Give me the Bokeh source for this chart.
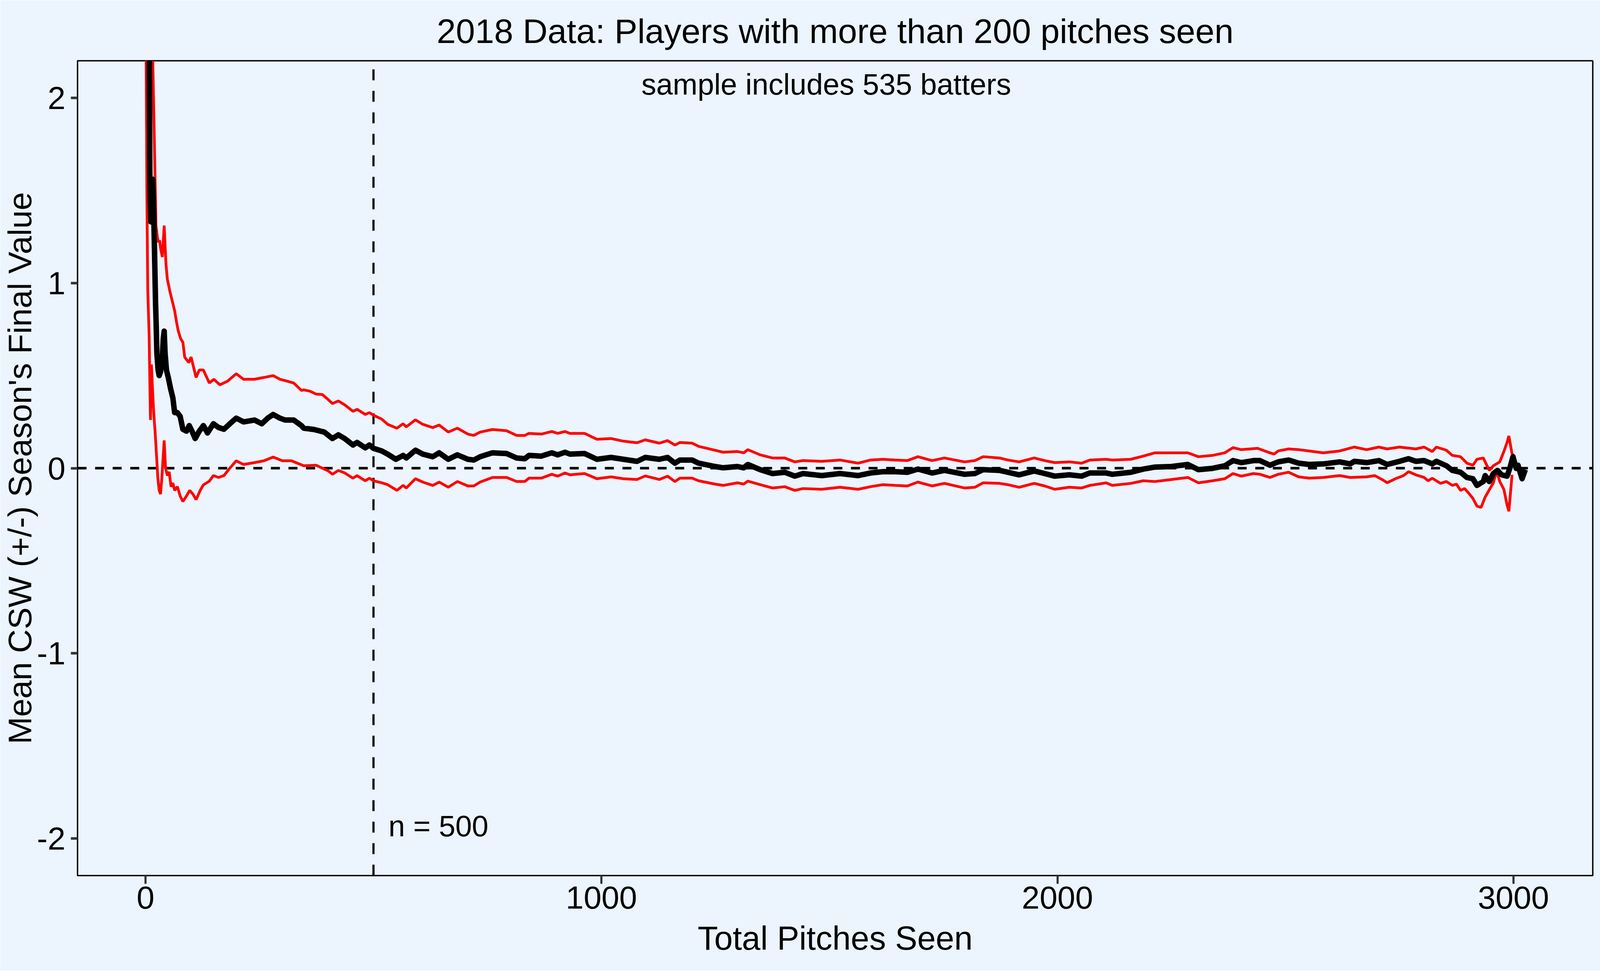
from bokeh.plotting import figure
from bokeh.models import Range1d, FixedTicker, Label, CustomJSTickFormatter
from bokeh.embed import file_html
from bokeh.resources import INLINE

# ---------------- data ----------------
mean_x = [1, 4, 7, 8.5, 9.5, 10.5, 12, 14, 16, 18, 20, 22, 23.3, 25, 27.7, 30, 33, 37, 39, 41, 43, 46, 50, 55, 60, 64, 70, 76, 82, 90, 96, 102, 109, 118, 127, 136, 149, 160, 172, 185, 199, 215, 239, 255, 268, 280, 295, 306, 325, 342,
          347, 369.5, 392, 410, 423, 437, 455, 464, 482, 491, 500, 518, 531, 549, 565, 572, 592, 608, 630, 644, 664, 684, 707, 720, 734, 761, 792, 814, 832, 841, 868, 891, 904, 920, 931, 963, 990, 1021, 1048,
          1078, 1096, 1127, 1145, 1161, 1172, 1199, 1213, 1249, 1267, 1298, 1312, 1321, 1348, 1375, 1402, 1424, 1442, 1483, 1523, 1563, 1590, 1617, 1644, 1671, 1694, 1725, 1752,
          1796, 1819, 1837, 1873, 1891, 1916, 1949, 1972, 1994, 2026, 2053, 2071, 2107, 2120, 2161, 2188, 2214, 2250, 2286, 2309, 2340, 2367, 2385, 2403, 2430, 2444,
          2466, 2484, 2507, 2529, 2552, 2583, 2619, 2642, 2651, 2678, 2705, 2723, 2750, 2770, 2786, 2804, 2822, 2831, 2853, 2866, 2884, 2898, 2911, 2920, 2934, 2938, 2947, 2956, 2965, 2974, 2986, 2992, 2999, 3006, 3010, 3019, 3026]
mean_y = [8.0, 4.0, 2.5, 2.2, 1.6, 1.45, 1.33, 1.50, 1.56, 1.38, 1.15, 0.9, 0.79, 0.62, 0.53, 0.50, 0.52, 0.60, 0.70, 0.74, 0.62, 0.53, 0.49, 0.43, 0.38, 0.30, 0.30, 0.28, 0.21, 0.20, 0.23, 0.20, 0.16, 0.20, 0.23, 0.19, 0.24, 0.22, 0.21, 0.24, 0.27, 0.25, 0.26, 0.24, 0.27, 0.29, 0.27, 0.26, 0.26, 0.23,
          0.216, 0.209, 0.195, 0.16, 0.18, 0.16, 0.125, 0.139, 0.11, 0.125, 0.107, 0.093, 0.076, 0.048, 0.069, 0.055, 0.097, 0.076, 0.062, 0.083, 0.048, 0.072, 0.048, 0.044, 0.062, 0.083, 0.079, 0.055, 0.051, 0.069, 0.065, 0.083, 0.072, 0.086, 0.076, 0.079, 0.048, 0.058, 0.048,
          0.037, 0.058, 0.048, 0.058, 0.027, 0.044, 0.044, 0.027, 0.009, 0.002, 0.009, 0.002, 0.02, -0.008, -0.029, -0.022, -0.043, -0.029, -0.04, -0.029, -0.04, -0.026, -0.019, -0.019, -0.022, -0.005, -0.026, -0.012,
          -0.033, -0.029, -0.008, -0.012, -0.022, -0.036, -0.015, -0.029, -0.043, -0.036, -0.043, -0.026, -0.026, -0.033, -0.022, -0.005, 0.006, 0.009, 0.02, -0.008, -0.001, 0.013, 0.041, 0.03, 0.041, 0.041,
          0.016, 0.034, 0.044, 0.027, 0.02, 0.023, 0.034, 0.023, 0.037, 0.03, 0.041, 0.02, 0.037, 0.051, 0.037, 0.041, 0.023, 0.037, 0.013, -0.012, -0.022, -0.05, -0.057, -0.093, -0.072, -0.04, -0.072, -0.029, -0.012, -0.036, -0.043, -0.001, 0.062, -0.001, 0.016, -0.057, -0.008]

upper_x = [1, 10, 16, 20, 23, 26, 28, 31, 33, 37, 41, 45, 48, 54, 60, 64, 68, 72, 77, 82, 86, 95, 100, 111, 118, 127, 140, 150, 163, 180, 199, 215, 239, 260, 280, 295, 311, 325, 342,
           347, 360.5, 374, 387.5, 401, 410, 423, 437, 455, 464, 482, 491, 500, 518, 531, 551.5, 565, 572, 592, 608, 630, 644, 664, 684, 707, 720, 734, 761, 792, 814, 832, 841, 868, 891, 904, 920, 931, 963, 990, 1021, 1048,
           1078, 1096, 1127, 1145, 1161, 1172, 1199, 1213, 1249, 1267, 1298, 1312, 1321, 1348, 1375, 1402, 1424, 1442, 1483, 1523, 1563, 1590, 1617, 1644, 1671, 1694, 1725, 1752,
           1796, 1819, 1837, 1873, 1891, 1916, 1949, 1972, 1994, 2026, 2053, 2071, 2107, 2120, 2161, 2188, 2214, 2250, 2286, 2309, 2340, 2367, 2385, 2403, 2439,
           2466, 2475, 2484, 2507, 2529, 2552, 2583, 2619, 2651, 2678, 2705, 2723, 2750, 2786, 2804, 2822, 2831, 2853, 2866, 2884, 2898, 2911, 2920, 2934, 2947, 2956, 2970, 2979, 2986, 2990, 2997, 2999]
upper_y = [10.0, 4.0, 2.2, 1.7, 1.31, 1.25, 1.22, 1.23, 1.19, 1.14, 1.31, 1.1, 1.02, 0.95, 0.89, 0.85, 0.79, 0.74, 0.70, 0.68, 0.60, 0.57, 0.60, 0.49, 0.53, 0.53, 0.46, 0.48, 0.45, 0.47, 0.51, 0.48, 0.48, 0.49, 0.50, 0.48, 0.47, 0.46, 0.42,
           0.423, 0.416, 0.40, 0.398, 0.37, 0.349, 0.363, 0.342, 0.307, 0.318, 0.29, 0.30, 0.286, 0.265, 0.237, 0.216, 0.24, 0.223, 0.261, 0.237, 0.219, 0.233, 0.195, 0.216, 0.184, 0.177, 0.195, 0.209, 0.202, 0.177, 0.177, 0.188, 0.184, 0.198, 0.188, 0.198, 0.188, 0.188, 0.156, 0.16, 0.146,
           0.137, 0.153, 0.135, 0.149, 0.125, 0.139, 0.135, 0.118, 0.097, 0.086, 0.09, 0.083, 0.1, 0.072, 0.055, 0.055, 0.034, 0.041, 0.037, 0.044, 0.027, 0.044, 0.048, 0.044, 0.041, 0.062, 0.041, 0.055,
           0.034, 0.041, 0.062, 0.055, 0.044, 0.034, 0.055, 0.041, 0.03, 0.034, 0.027, 0.044, 0.048, 0.044, 0.048, 0.065, 0.083, 0.083, 0.083, 0.062, 0.069, 0.083, 0.111, 0.1, 0.107,
           0.083, 0.076, 0.093, 0.104, 0.1, 0.093, 0.083, 0.093, 0.114, 0.1, 0.114, 0.104, 0.114, 0.104, 0.114, 0.09, 0.114, 0.097, 0.069, 0.062, 0.027, 0.016, 0.048, 0.055, -0.012, 0.013, 0.034, 0.09, 0.139, 0.174, 0.076, 0.082]

lower_x = [1, 3, 5, 8, 10, 11, 12, 13, 15, 18, 21, 23, 27, 30, 33, 36, 41, 44, 48, 52, 56, 60, 64, 70, 76, 82, 90, 97, 104, 111, 120, 127, 140, 149, 160, 172, 185, 199, 215, 239, 260, 280, 300, 320,
           347, 374, 401, 410, 423, 437, 455, 464, 482, 491, 500, 518, 531, 551.5, 565, 572, 592, 608, 630, 644, 664, 684, 707, 720, 734, 761, 792, 814, 832, 841, 868, 891, 904, 920, 931, 963, 990, 1021, 1048,
           1078, 1096, 1127, 1145, 1161, 1172, 1199, 1213, 1249, 1267, 1298, 1312, 1321, 1348, 1375, 1402, 1424, 1442, 1483, 1523, 1563, 1590, 1617, 1644, 1671, 1694, 1725, 1752,
           1796, 1819, 1837, 1873, 1891, 1916, 1949, 1972, 1994, 2026, 2053, 2071, 2107, 2120, 2161, 2188, 2214, 2250, 2286, 2309, 2340, 2367, 2385, 2403, 2430,
           2444, 2466, 2484, 2507, 2529, 2552, 2583, 2619, 2642, 2678, 2696, 2714, 2723, 2741, 2759, 2770, 2786, 2804, 2813, 2822, 2840, 2853, 2866, 2875, 2884, 2893, 2902, 2911, 2920, 2929, 2938, 2947, 2956, 2963, 2970, 2979, 2986, 2990, 2997]
lower_y = [2.5, 1.5, 0.96, 0.72, 0.4, 0.26, 0.5, 0.56, 0.45, 0.30, 0.2, 0.12, -0.05, -0.12, -0.14, -0.05, 0.15, 0.0, -0.04, -0.02, -0.1, -0.08, -0.12, -0.1, -0.15, -0.18, -0.15, -0.12, -0.14, -0.17, -0.12, -0.09, -0.07, -0.04, -0.05, -0.04, 0.0, 0.04, 0.02, 0.03, 0.04, 0.06, 0.04, 0.04,
           0.013, 0.016, -0.015, -0.033, -0.012, -0.026, -0.054, -0.04, -0.068, -0.054, -0.068, -0.079, -0.089, -0.12, -0.093, -0.107, -0.057, -0.075, -0.093, -0.075, -0.103, -0.072, -0.096, -0.096, -0.075, -0.05, -0.05, -0.072, -0.072, -0.054, -0.054, -0.033, -0.043, -0.026, -0.036, -0.029, -0.057, -0.047, -0.057,
           -0.061, -0.042, -0.061, -0.043, -0.072, -0.054, -0.054, -0.068, -0.086, -0.093, -0.079, -0.086, -0.07, -0.089, -0.107, -0.1, -0.12, -0.11, -0.114, -0.103, -0.114, -0.1, -0.089, -0.093, -0.096, -0.075, -0.096, -0.082,
           -0.107, -0.103, -0.079, -0.082, -0.089, -0.103, -0.082, -0.096, -0.114, -0.103, -0.107, -0.093, -0.079, -0.093, -0.082, -0.068, -0.072, -0.061, -0.05, -0.079, -0.068, -0.057, -0.029, -0.043, -0.029,
           -0.033, -0.05, -0.033, -0.022, -0.047, -0.054, -0.05, -0.04, -0.05, -0.047, -0.04, -0.064, -0.079, -0.057, -0.04, -0.019, -0.036, -0.05, -0.068, -0.054, -0.082, -0.072, -0.093, -0.086, -0.12, -0.11, -0.135, -0.163, -0.205, -0.212, -0.156, -0.117, -0.079, -0.015, -0.072, -0.114, -0.198, -0.233, -0.036]

x_ticks = [0, 1000, 2000, 3000]
y_ticks = [-2, -1, 0, 1, 2]
cutoff_n = 500
ref_y = 0
n_batters = 535

BG = "#ECF4FD"
FONT = "Liberation Sans"
FONT_H = "'Liberation Sans Narrow', 'Liberation Sans', sans-serif"

p = figure(width=4096, height=2484, output_backend="svg", toolbar_location=None,
           x_range=Range1d(-149, 3174), y_range=Range1d(-2.2, 2.2),
           min_border_left=195, min_border_right=19, min_border_top=155, min_border_bottom=244,
           background_fill_color=BG, border_fill_color=BG)

p.title.text = "2018 Data: Players with more than 200 pitches seen"
p.title.align = "center"
p.title.text_font = FONT_H
p.title.text_font_size = "88px"
p.title.text_font_style = "normal"
p.title.text_color = "black"
p.title.standoff = 53

p.outline_line_color = "black"
p.outline_line_width = 3.5
p.grid.visible = False

for ax in (p.xaxis[0], p.yaxis[0]):
    ax.axis_line_color = None
    ax.minor_tick_line_color = None
    ax.major_tick_in = 0
    ax.major_tick_line_color = "#333333"
    ax.major_label_text_font = FONT_H
    ax.major_label_text_font_size = "82px"
    ax.major_label_text_color = "black"
    ax.axis_label_text_font_style = "normal"
    ax.axis_label_text_color = "black"

p.xaxis.major_tick_out = 21
p.xaxis.major_tick_line_width = 5.4
p.yaxis.major_tick_out = 17
p.yaxis.major_tick_line_width = 6.5
p.xaxis.axis_label_text_font = FONT_H
p.yaxis.axis_label_text_font = FONT
p.xaxis.axis_label_text_font_size = "85px"
p.yaxis.axis_label_text_font_size = "84px"
p.xaxis.ticker = FixedTicker(ticks=x_ticks)
p.yaxis.ticker = FixedTicker(ticks=y_ticks)
p.yaxis.formatter = CustomJSTickFormatter(code="return String(tick);")
p.xaxis.axis_label = "Total Pitches Seen"
p.yaxis.axis_label = "Mean CSW (+/-) Season's Final Value"
p.xaxis.major_label_standoff = 6
p.yaxis.major_label_standoff = 14
p.xaxis.axis_label_standoff = 25
p.yaxis.axis_label_standoff = -6

# reference lines
xr = p.x_range
yr = p.y_range
p.line([xr.start, xr.end], [ref_y, ref_y], line_color="black", line_width=6.5, line_dash="23 22")
p.line([cutoff_n, cutoff_n], [yr.start, yr.end], line_color="black", line_width=5.5, line_dash="28 27")

# series
p.line(upper_x, upper_y, line_color="red", line_width=7)
p.line(lower_x, lower_y, line_color="red", line_width=7)
p.line(mean_x, mean_y, line_color="black", line_width=14, line_join="round")

p.add_layout(Label(x=1493, y=2.074, text=f"sample includes {n_batters} batters", text_align="center",
                   text_baseline="alphabetic", text_font=FONT_H, text_font_size="76px", text_color="black"))
p.add_layout(Label(x=533, y=-1.933, text=f"n = {cutoff_n}", text_align="left",
                   text_baseline="alphabetic", text_font=FONT_H, text_font_size="76px", text_color="black"))

open("out.html", "w").write(file_html(p, INLINE))
